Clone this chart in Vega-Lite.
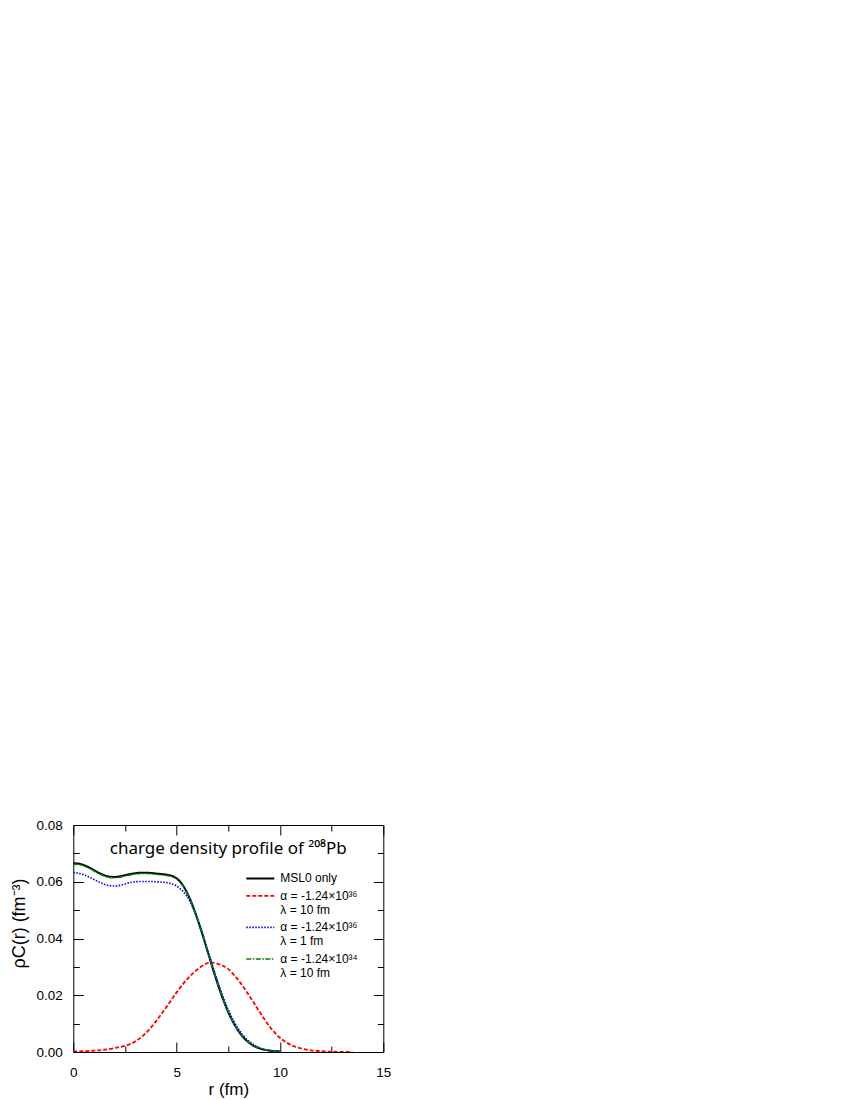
{
  "$schema": "https://vega.github.io/schema/vega-lite/v6.json",
  "width": 310,
  "height": 227,
  "autosize": {"type": "none"},
  "padding": {"left": 73.3, "top": 825, "right": 466.7, "bottom": 48},
  "background": "white",
  "title": {"text": "charge density profile of ²⁰⁸Pb", "fontSize": 17, "font": "Noto Sans", "fontWeight": "normal", "color": "black", "anchor": "middle", "baseline": "alphabetic", "offset": -53, "frame": "group"},
  "config": {
    "view": {"stroke": "black", "strokeWidth": 1},
    "font": "Liberation Sans",
    "axis": {"labelFont": "Liberation Sans", "titleFont": "Liberation Sans", "labelColor": "black", "titleColor": "black", "tickColor": "black", "tickWidth": 1, "grid": false, "domain": false, "labelFontSize": 13.5, "titleFontSize": 18, "titleFontWeight": "normal", "labelFlush": false, "labelOverlap": false}
  },
  "data": {"values": [
    {"s":"k","r":0,"v":0.0665},{"s":"k","r":0.25,"v":0.0664},{"s":"k","r":0.5,"v":0.0659},{"s":"k","r":0.75,"v":0.0651},{"s":"k","r":1,"v":0.0641},{"s":"k","r":1.25,"v":0.0631},{"s":"k","r":1.5,"v":0.0623},{"s":"k","r":1.75,"v":0.0618},{"s":"k","r":2,"v":0.0617},{"s":"k","r":2.25,"v":0.0619},{"s":"k","r":2.5,"v":0.0623},{"s":"k","r":2.75,"v":0.0627},{"s":"k","r":3,"v":0.063},{"s":"k","r":3.25,"v":0.0632},{"s":"k","r":3.5,"v":0.0632},{"s":"k","r":3.75,"v":0.0631},{"s":"k","r":4,"v":0.0629},{"s":"k","r":4.25,"v":0.0627},{"s":"k","r":4.5,"v":0.0625},{"s":"k","r":4.75,"v":0.0621},{"s":"k","r":5,"v":0.0612},{"s":"k","r":5.25,"v":0.0593},{"s":"k","r":5.5,"v":0.0562},{"s":"k","r":5.75,"v":0.0521},{"s":"k","r":6,"v":0.047},{"s":"k","r":6.25,"v":0.0414},{"s":"k","r":6.5,"v":0.0354},{"s":"k","r":6.75,"v":0.0294},{"s":"k","r":7,"v":0.0237},{"s":"k","r":7.25,"v":0.0185},{"s":"k","r":7.5,"v":0.014},{"s":"k","r":7.75,"v":0.0103},{"s":"k","r":8,"v":0.0073},{"s":"k","r":8.25,"v":0.005},{"s":"k","r":8.5,"v":0.0033},{"s":"k","r":8.75,"v":0.0021},{"s":"k","r":9,"v":0.0013},{"s":"k","r":9.25,"v":0.0008},{"s":"k","r":9.5,"v":0.0005},{"s":"k","r":9.75,"v":0.0003},{"s":"k","r":10,"v":0.0002},
    {"s":"r","r":0,"v":0.0002},{"s":"r","r":0.5,"v":0.0003},{"s":"r","r":1,"v":0.0005},{"s":"r","r":1.5,"v":0.0008},{"s":"r","r":2,"v":0.0014},{"s":"r","r":2.5,"v":0.0022},{"s":"r","r":3,"v":0.0037},{"s":"r","r":3.5,"v":0.0066},{"s":"r","r":4,"v":0.0108},{"s":"r","r":4.5,"v":0.0158},{"s":"r","r":5,"v":0.021},{"s":"r","r":5.5,"v":0.0256},{"s":"r","r":6,"v":0.0291},{"s":"r","r":6.25,"v":0.0304},{"s":"r","r":6.5,"v":0.0313},{"s":"r","r":6.75,"v":0.0315},{"s":"r","r":7,"v":0.0311},{"s":"r","r":7.5,"v":0.0292},{"s":"r","r":8,"v":0.0252},{"s":"r","r":8.5,"v":0.02},{"s":"r","r":9,"v":0.0143},{"s":"r","r":9.5,"v":0.009},{"s":"r","r":10,"v":0.005},{"s":"r","r":10.5,"v":0.0026},{"s":"r","r":11,"v":0.0013},{"s":"r","r":11.5,"v":0.0006},{"s":"r","r":12,"v":0.0003},{"s":"r","r":12.5,"v":0.0001},{"s":"r","r":13,"v":0.00004},{"s":"r","r":13.5,"v":0},
    {"s":"b","r":0,"v":0.0632},{"s":"b","r":0.25,"v":0.063},{"s":"b","r":0.5,"v":0.0625},{"s":"b","r":0.75,"v":0.0617},{"s":"b","r":1,"v":0.0608},{"s":"b","r":1.25,"v":0.0599},{"s":"b","r":1.5,"v":0.0591},{"s":"b","r":1.75,"v":0.0586},{"s":"b","r":2,"v":0.0585},{"s":"b","r":2.25,"v":0.0587},{"s":"b","r":2.5,"v":0.0592},{"s":"b","r":2.75,"v":0.0597},{"s":"b","r":3,"v":0.06},{"s":"b","r":3.25,"v":0.0601},{"s":"b","r":3.5,"v":0.0601},{"s":"b","r":3.75,"v":0.0601},{"s":"b","r":4,"v":0.06},{"s":"b","r":4.25,"v":0.0599},{"s":"b","r":4.5,"v":0.0597},{"s":"b","r":4.75,"v":0.0593},{"s":"b","r":5,"v":0.0585},{"s":"b","r":5.25,"v":0.057},{"s":"b","r":5.5,"v":0.0548},{"s":"b","r":5.75,"v":0.0515},{"s":"b","r":6,"v":0.047},{"s":"b","r":6.25,"v":0.0418},{"s":"b","r":6.5,"v":0.036},{"s":"b","r":6.75,"v":0.0302},{"s":"b","r":7,"v":0.0246},{"s":"b","r":7.25,"v":0.0194},{"s":"b","r":7.5,"v":0.0149},{"s":"b","r":7.75,"v":0.0111},{"s":"b","r":8,"v":0.008},{"s":"b","r":8.25,"v":0.0056},{"s":"b","r":8.5,"v":0.0038},{"s":"b","r":8.75,"v":0.0025},{"s":"b","r":9,"v":0.0015},{"s":"b","r":9.25,"v":0.0009},{"s":"b","r":9.5,"v":0.0005},{"s":"b","r":9.75,"v":0.0003},{"s":"b","r":10,"v":0.0001},
    {"s":"g","r":0,"v":0.0662},{"s":"g","r":0.25,"v":0.0661},{"s":"g","r":0.5,"v":0.0656},{"s":"g","r":0.75,"v":0.0648},{"s":"g","r":1,"v":0.0638},{"s":"g","r":1.25,"v":0.0628},{"s":"g","r":1.5,"v":0.062},{"s":"g","r":1.75,"v":0.0615},{"s":"g","r":2,"v":0.0614},{"s":"g","r":2.25,"v":0.0616},{"s":"g","r":2.5,"v":0.062},{"s":"g","r":2.75,"v":0.0624},{"s":"g","r":3,"v":0.0627},{"s":"g","r":3.25,"v":0.0629},{"s":"g","r":3.5,"v":0.0629},{"s":"g","r":3.75,"v":0.0628},{"s":"g","r":4,"v":0.0626},{"s":"g","r":4.25,"v":0.0624},{"s":"g","r":4.5,"v":0.0622},{"s":"g","r":4.75,"v":0.0618},{"s":"g","r":5,"v":0.061},{"s":"g","r":5.25,"v":0.0591},{"s":"g","r":5.5,"v":0.0561},{"s":"g","r":5.75,"v":0.052},{"s":"g","r":6,"v":0.047},{"s":"g","r":6.25,"v":0.0414},{"s":"g","r":6.5,"v":0.0355},{"s":"g","r":6.75,"v":0.0295},{"s":"g","r":7,"v":0.0238},{"s":"g","r":7.25,"v":0.0186},{"s":"g","r":7.5,"v":0.0141},{"s":"g","r":7.75,"v":0.0104},{"s":"g","r":8,"v":0.0074},{"s":"g","r":8.25,"v":0.0051},{"s":"g","r":8.5,"v":0.0034},{"s":"g","r":8.75,"v":0.0022},{"s":"g","r":9,"v":0.0014},{"s":"g","r":9.25,"v":0.0008},{"s":"g","r":9.5,"v":0.0005},{"s":"g","r":9.75,"v":0.0003},{"s":"g","r":10,"v":0.0002}
  ]},
  "layer": [
    {
      "mark": {"type": "line", "interpolate": "monotone", "clip": true},
      "encoding": {
        "x": {"field": "r", "type": "quantitative", "scale": {"domain": [0, 15], "nice": false},
          "axis": {"orient": "bottom", "values": [0, 2.5, 5, 7.5, 10, 12.5, 15], "labelExpr": "datum.value % 5 === 0 ? datum.label : ''",
            "tickSize": {"condition": {"test": "datum.value % 5 === 0", "value": -10}, "value": -6},
            "labelPadding": 23, "title": "r (fm)", "titleFontSize": 17, "titleBaseline": "alphabetic", "titleY": 42}},
        "y": {"field": "v", "type": "quantitative", "scale": {"domain": [0, 0.08], "nice": false},
          "axis": {"orient": "left", "values": [0, 0.01, 0.02, 0.03, 0.04, 0.05, 0.06, 0.07, 0.08],
            "labelExpr": "round(datum.value*100) % 2 === 0 ? format(datum.value, '.2f') : ''",
            "tickSize": {"condition": {"test": "round(datum.value*100) % 2 === 0", "value": -10}, "value": -6},
            "labelPadding": 21, "title": "ρC(r) (fm⁻³)", "titlePadding": 8, "titleY": 98}},
        "color": {"field": "s", "type": "nominal",
          "scale": {"domain": ["k", "r", "b", "g"], "range": ["#000000", "#ff0000", "#0000ff", "#008000"]},
          "legend": {"orient": "none", "legendX": 181, "legendY": 47.4, "title": null, "direction": "vertical", "columns": 1,
            "symbolType": "M-3,0H3", "symbolSize": 87, "symbolStrokeWidth": 1.5, "labelFontSize": 12, "labelFont": "Liberation Sans",
            "labelColor": "black", "labelOffset": 14, "rowPadding": 5.5, "labelBaseline": "middle", "padding": 0,
            "labelExpr": "datum.label == 'k' ? 'MSL0 only' : datum.label == 'r' ? ['α = -1.24×10³⁶', 'λ = 10 fm'] : datum.label == 'b' ? ['α = -1.24×10³⁶', 'λ = 1 fm'] : ['α = -1.24×10³⁴', 'λ = 10 fm']"}},
        "strokeDash": {"field": "s", "type": "nominal",
          "scale": {"domain": ["k", "r", "b", "g"], "range": [[1, 0], [4, 2], [1.5, 1.5], [5, 1.5, 1.5, 1.5]]},
          "legend": {"orient": "none", "legendX": 181, "legendY": 47.4, "title": null, "direction": "vertical", "columns": 1,
            "symbolType": "M-3,0H3", "symbolSize": 87, "symbolStrokeWidth": 1.5, "labelFontSize": 12, "labelFont": "Liberation Sans",
            "labelColor": "black", "labelOffset": 14, "rowPadding": 5.5, "labelBaseline": "middle", "padding": 0,
            "labelExpr": "datum.label == 'k' ? 'MSL0 only' : datum.label == 'r' ? ['α = -1.24×10³⁶', 'λ = 10 fm'] : datum.label == 'b' ? ['α = -1.24×10³⁶', 'λ = 1 fm'] : ['α = -1.24×10³⁴', 'λ = 10 fm']"}},
        "strokeWidth": {"field": "s", "type": "nominal", "scale": {"domain": ["k", "r", "b", "g"], "range": [2, 1.5, 1.5, 2]}, "legend": null}
      }
    },
    {
      "mark": {"type": "point", "opacity": 0},
      "encoding": {
        "x": {"field": "r", "type": "quantitative",
          "axis": {"orient": "top", "values": [0, 2.5, 5, 7.5, 10, 12.5, 15], "labels": false, "title": null,
            "tickSize": {"condition": {"test": "datum.value % 5 === 0", "value": -10}, "value": -6}}},
        "y": {"field": "v", "type": "quantitative",
          "axis": {"orient": "right", "values": [0, 0.01, 0.02, 0.03, 0.04, 0.05, 0.06, 0.07, 0.08], "labels": false, "title": null,
            "tickSize": {"condition": {"test": "round(datum.value*100) % 2 === 0", "value": -10}, "value": -6}}}
      }
    }
  ],
  "resolve": {"axis": {"x": "independent", "y": "independent"}}
}
